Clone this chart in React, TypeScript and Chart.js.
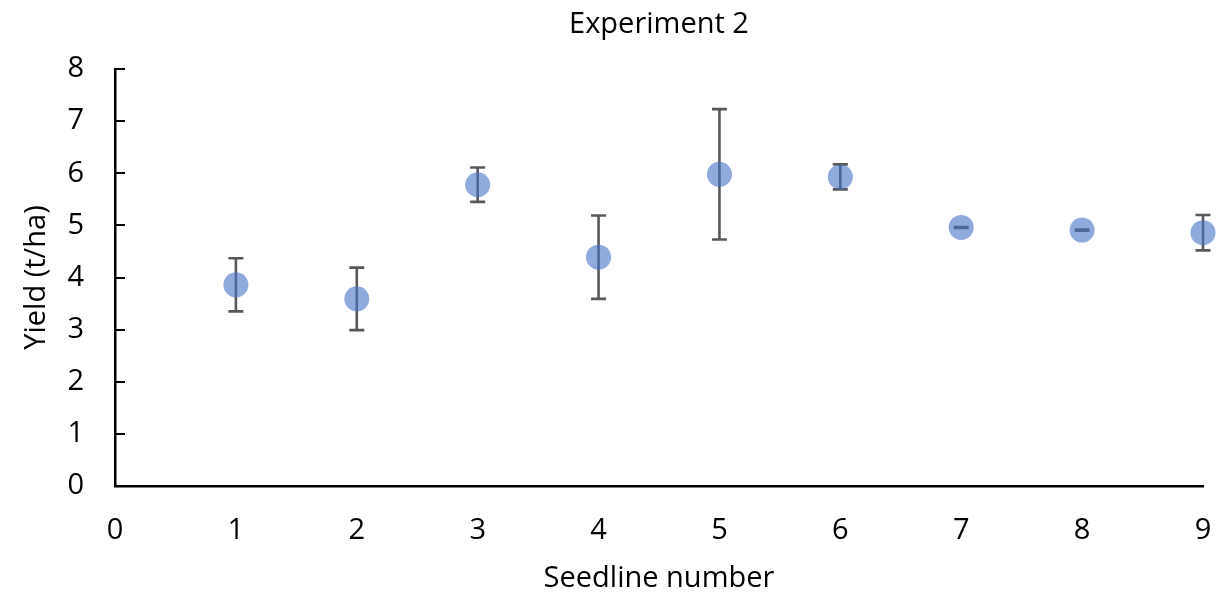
import React, { useEffect, useRef } from "react";
import { Chart, registerables } from "chart.js";

Chart.register(...registerables);

const seedlines = [1, 2, 3, 4, 5, 6, 7, 8, 9];
const yieldMeans = [3.86, 3.59, 5.78, 4.39, 5.98, 5.93, 4.96, 4.91, 4.86];
const yieldErrors = [0.51, 0.6, 0.33, 0.8, 1.25, 0.24, 0.01, 0.01, 0.34];
const xTickValues = [0, 1, 2, 3, 4, 5, 6, 7, 8, 9];
const yTickValues = [0, 1, 2, 3, 4, 5, 6, 7, 8];

const FONT = "'Open Sans', 'Noto Sans', sans-serif";
const FS = 29;

const errorBarPlugin = {
  id: "errorBars",
  beforeDatasetsDraw(chart: any) {
    const { ctx, scales } = chart;
    const xs = scales.x;
    const ys = scales.y;
    ctx.save();
    ctx.strokeStyle = "#595959";
    ctx.lineWidth = 2.6;
    const cap = 7.5;
    seedlines.forEach((s, i) => {
      const x = xs.getPixelForValue(s);
      const yTop = ys.getPixelForValue(yieldMeans[i] + yieldErrors[i]);
      const yBot = ys.getPixelForValue(yieldMeans[i] - yieldErrors[i]);
      ctx.beginPath();
      ctx.moveTo(x, yTop);
      ctx.lineTo(x, yBot);
      ctx.moveTo(x - cap, yTop);
      ctx.lineTo(x + cap, yTop);
      ctx.moveTo(x - cap, yBot);
      ctx.lineTo(x + cap, yBot);
      ctx.stroke();
    });
    ctx.restore();
  },
  afterDraw(chart: any) {
    // inward tick marks on the y axis
    const { ctx, scales } = chart;
    const ys = scales.y;
    const xs = scales.x;
    const x0 = xs.left;
    ctx.save();
    ctx.strokeStyle = "#000";
    ctx.lineWidth = 2;
    yTickValues.forEach((v) => {
      if (v === 0) return;
      const y = Math.round(ys.getPixelForValue(v));
      ctx.beginPath();
      ctx.moveTo(x0, y);
      ctx.lineTo(x0 + 10, y);
      ctx.stroke();
    });
    ctx.restore();
  },
};

export default function App() {
  const ref = useRef<HTMLCanvasElement>(null);

  useEffect(() => {
    if (!ref.current) return;
    const chart = new Chart(ref.current, {
      type: "scatter",
      data: {
        datasets: [
          {
            label: "Yield",
            data: seedlines.map((s, i) => ({ x: s, y: yieldMeans[i] })),
            backgroundColor: "rgba(68,114,196,0.6)",
            borderWidth: 0,
            pointRadius: 12.5,
            pointHoverRadius: 12.5,
            clip: false as any,
          },
        ],
      },
      options: {
        responsive: false,
        animation: false,
        devicePixelRatio: 1,
        layout: { padding: { left: 0, right: 21, top: 0, bottom: 0 } },
        plugins: {
          legend: { display: false },
          tooltip: { enabled: false },
          title: {
            display: true,
            text: "Experiment 2",
            fullSize: false,
            color: "#000",
            font: { family: FONT, size: FS, weight: "normal" },
            padding: { top: 7.6, bottom: 26.6 },
          },
        },
        scales: {
          x: {
            type: "linear",
            min: 0,
            max: 9,
            afterBuildTicks: (scale: any) => {
              scale.ticks = xTickValues.map((v) => ({ value: v }));
            },
            afterFit: (scale: any) => {
              scale.height = 112;
              scale.paddingLeft = 0;
              scale.paddingRight = 0;
            },
            grid: { display: false, drawTicks: false },
            border: { display: true, color: "#000", width: 2.5 },
            ticks: {
              color: "#000",
              padding: 27.6,
              font: { family: FONT, size: FS },
              maxRotation: 0,
            },
            title: {
              display: true,
              text: "Seedline number",
              color: "#000",
              font: { family: FONT, size: FS },
              padding: { top: 0, bottom: 1.6 },
            },
          },
          y: {
            type: "linear",
            min: 0,
            max: 8,
            afterBuildTicks: (scale: any) => {
              scale.ticks = yTickValues.map((v) => ({ value: v }));
            },
            afterFit: (scale: any) => {
              scale.width = 115;
            },
            grid: { display: false, drawTicks: false },
            border: { display: true, color: "#000", width: 2.5 },
            ticks: {
              color: "#000",
              padding: 31,
              font: { family: FONT, size: FS },
            },
            title: {
              display: true,
              text: "Yield (t/ha)",
              color: "#000",
              font: { family: FONT, size: FS },
              padding: { top: 19.6, bottom: 0 },
            },
          },
        },
      },
      plugins: [errorBarPlugin],
    });
    return () => chart.destroy();
  }, []);

  return (
    <div style={{ position: "fixed", left: 0, top: 0, width: 1224, height: 598, background: "#fff" }}>
      <canvas ref={ref} width={1224} height={598} style={{ width: 1224, height: 598 }} />
    </div>
  );
}
